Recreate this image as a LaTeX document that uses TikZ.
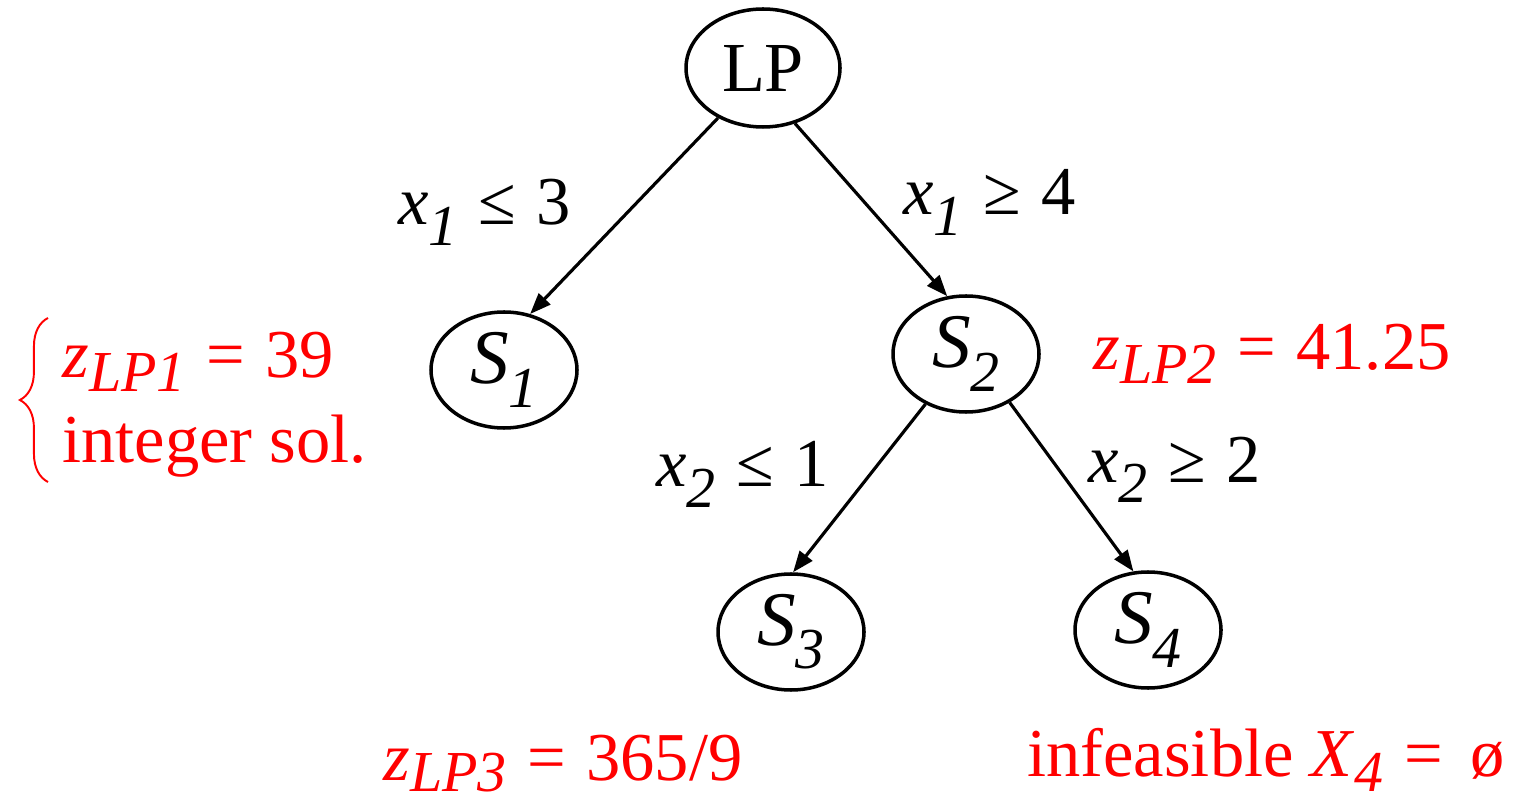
\documentclass[tikz,border=0pt]{standalone}
\usepackage{fontspec}
\setmainfont{Liberation Serif}
\usetikzlibrary{arrows.meta, shapes.geometric, decorations.pathreplacing}
\newlength{\pxu}\setlength{\pxu}{0.02cm}
\tikzset{
  subprob/.style  = {draw, ellipse, line width=2pt, inner sep=0pt,
                     minimum width=146\pxu, minimum height=116\pxu,
                     font=\fontsize{44}{46}\selectfont\itshape},
  branch/.style   = {-{Triangle[length=12pt, width=9pt]}, line width=1.8pt},
  cut/.style      = {font=\fontsize{39}{42}\selectfont, inner sep=0pt},
  bound/.style    = {font=\fontsize{39}{42}\selectfont, text=red, inner sep=0pt},
  bracket/.style  = {draw=red, line width=1.1pt,
                     decorate, decoration={brace, amplitude=16pt}},
}
\newcommand{\sub}[2][0.3em]{\raisebox{-#1}{\fontsize{33}{33}\selectfont\itshape #2}}
\newcommand{\rel}[1]{\hspace{0.3em}#1\hspace{0.3em}}

\begin{document}
\begin{tikzpicture}[x=0.02cm, y=-0.02cm]
\useasboundingbox (0,0) rectangle (1531,803);

% ===== tree nodes =====
\node[subprob, minimum width=154\pxu, minimum height=118\pxu,
      font=\fontsize{40}{40}\selectfont] (lp) at (763,68) {LP};
\node[subprob] (s1) at (504,370) {S\sub{1}};
\node[subprob] (s2) at (966,354) {S\sub{2}};
\node[subprob] (s3) at (791,632) {S\sub{3}};
\node[subprob] (s4) at (1148,630) {S\sub{4}};

% ===== branching arrows =====
\draw[branch] (lp.-132) -- (s1.65);
\draw[branch] (lp.-60)  -- (s2.108);
\draw[branch] (s2.-129) -- (s3.88);
\draw[branch] (s2.-48)  -- (s4.104);

% ===== branching constraints =====
\node[cut, anchor=base west] (c1) at (398,225) {\textit{x}\sub{1}\rel{≤}3};
\node[cut, anchor=base west] (c2) at (903,215) {\textit{x}\sub{1}\rel{≥}4};
\node[cut, anchor=base west] (c3) at (656,487) {\textit{x}\sub{2}\rel{≤}1};
\node[cut, anchor=base west] (c4) at (1088,482) {\textit{x}\sub{2}\rel{≥}2};

% ===== bounds =====
\node[bound, anchor=base west] (z1) at (62,378) {\textit{z}\sub[0.2em]{LP1}\rel{=}39};
\node[bound, anchor=base west] (int1) at (62,463) {integer sol.};
\draw[bracket] (48,482) -- (48,318);
\node[bound, anchor=base west] (z2) at (1093,370) {\textit{z}\sub[0.2em]{LP2}\rel{=}41.25};
\node[bound, anchor=base west] (z3) at (383,780) {\textit{z}\sub[0.17em]{LP3}\rel{=}365/9};
\node[bound, anchor=base west] (inf4) at (1027,776) {infeasible \textit{X}\sub[0.22em]{4}\rel{=}\hspace{0.1em}ø};

\end{tikzpicture}
\end{document}
